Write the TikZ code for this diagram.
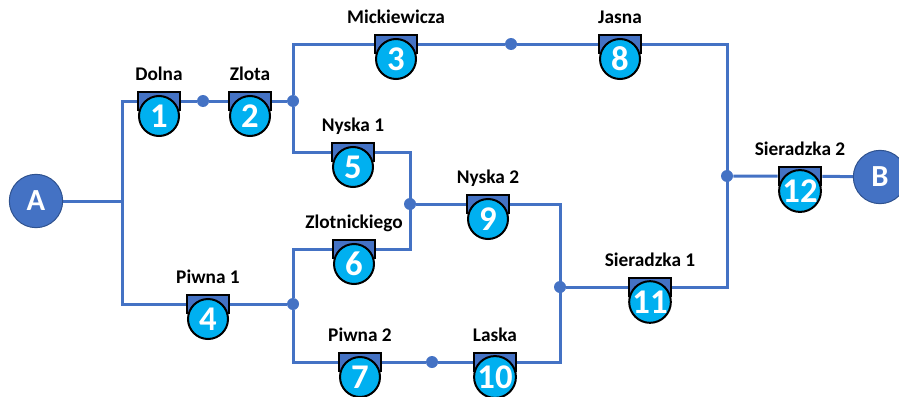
\documentclass[tikz,border=0pt]{standalone}
\usepackage{fontspec}
\setmainfont{Carlito}
\usetikzlibrary{shapes,arrows,positioning,backgrounds}
\definecolor{netblue}{HTML}{4472C4}
\definecolor{netcyan}{HTML}{00B0F0}
\definecolor{netdark}{HTML}{2F528F}
\tikzstyle{terminal} = [circle, fill=netblue, draw=netdark, line width=0.75pt, minimum size=40pt, inner sep=0pt, text=white, font=\fontsize{23}{23}\selectfont\bfseries]
\tikzstyle{seat} = [rectangle, draw=black, fill=netblue, line width=1.5pt, minimum width=32pt, minimum height=14pt, inner sep=0pt]
\tikzstyle{num} = [circle, draw=black, fill=netcyan, line width=1.5pt, minimum size=30pt, inner sep=0pt, text=white, font=\fontsize{26}{26}\selectfont\bfseries]
\tikzstyle{street} = [font=\fontsize{14.5}{14.5}\selectfont\bfseries, inner sep=0pt, text depth=0pt]
\tikzstyle{joint} = [circle, fill=netblue, minimum size=9pt, inner sep=0pt]
\tikzstyle{line} = [draw=netblue, line width=2.25pt]

\begin{document}
\begin{tikzpicture}[x=0.75pt, y=-0.75pt, node distance=7.5pt]
        \useasboundingbox (0,0) rectangle (899,396);
        % start and end
        \node [terminal] (A) at (36,201) {A};
        \node [terminal] (B) at (880,177) {B};

        % corners and junctions
        \coordinate (cA) at (122,201);
        \coordinate (c1) at (122,101);
        \coordinate (c2) at (122,304);
        \coordinate (c3) at (727,44);
        \coordinate (c5) at (410,152);
        \coordinate (c6) at (410,249);
        \coordinate (c7) at (560,204);
        \coordinate (c8) at (560,362);
        \coordinate (c9) at (727,287);
        \node [joint] (j1) at (293,101) {};
        \node [joint] (j2) at (410,204) {};
        \node [joint] (j3) at (560,287) {};
        \node [joint] (j4) at (293,304) {};
        \node [joint] (j5) at (727,176) {};
        \node [joint] (d1) at (203,101) {};
        \node [joint] (d3) at (511,44) {};
        \node [joint] (d7) at (432,362) {};

        % streets
        \node [seat] (s1) at (159,101) {};
        \node [num] (n1) at (159,116) {1};
        \node [street, above=of s1] (l1) {Dolna};
        \node [seat] (s2) at (250,101) {};
        \node [num] (n2) at (250,116) {2};
        \node [street, above=of s2] (l2) {Zlota};
        \node [seat] (s3) at (396,44) {};
        \node [num] (n3) at (396,59) {3};
        \node [street, above=of s3] (l3) {Mickiewicza};
        \node [seat] (s4) at (208,304) {};
        \node [num] (n4) at (208,319) {4};
        \node [street, above=of s4] (l4) {Piwna 1};
        \node [seat] (s5) at (353,152) {};
        \node [num] (n5) at (353,167) {5};
        \node [street, above=of s5] (l5) {Nyska 1};
        \node [seat] (s6) at (354,249) {};
        \node [num] (n6) at (354,264) {6};
        \node [street, above=of s6] (l6) {Zlotnickiego};
        \node [seat] (s7) at (360,362) {};
        \node [num] (n7) at (360,377) {7};
        \node [street, above=of s7] (l7) {Piwna 2};
        \node [seat] (s8) at (620,44) {};
        \node [num] (n8) at (620,59) {8};
        \node [street, above=of s8] (l8) {Jasna};
        \node [seat] (s9) at (488,204) {};
        \node [num] (n9) at (488,219) {9};
        \node [street, above=of s9] (l9) {Nyska 2};
        \node [seat] (s10) at (495,362) {};
        \node [num] (n10) at (495,377) {10};
        \node [street, above=of s10] (l10) {Laska};
        \node [seat] (s11) at (650,287) {};
        \node [num] (n11) at (650,302) {11};
        \node [street, above=of s11] (l11) {Sieradzka 1};
        \node [seat] (s12) at (800,176) {};
        \node [num] (n12) at (800,191) {12};
        \node [street, above=of s12] (l12) {Sieradzka 2};

        \begin{scope}[on background layer]
        \path [line] (A) -- (cA);
        \path [line] (s1) -- (c1) -- (c2) -- (s4);
        \path [line] (s1) -- (d1) -- (s2) -- (j1);
        \path [line] (j1) |- (s3);
        \path [line] (j1) |- (s5);
        \path [line] (s3) -- (d3) -- (s8);
        \path [line] (s8) -- (c3) -- (c9) -- (s11);
        \path [line] (s5) -- (c5) -- (c6) -- (s6);
        \path [line] (j2) -- (s9);
        \path [line] (s9) -- (c7) -- (c8) -- (s10);
        \path [line] (j3) -- (s11);
        \path [line] (s4) -- (j4);
        \path [line] (j4) |- (s6);
        \path [line] (j4) |- (s7);
        \path [line] (s7) -- (d7) -- (s10);
        \path [line] (j5) -- (s12) -- (B);
        \end{scope}
      \end{tikzpicture}
\end{document}
